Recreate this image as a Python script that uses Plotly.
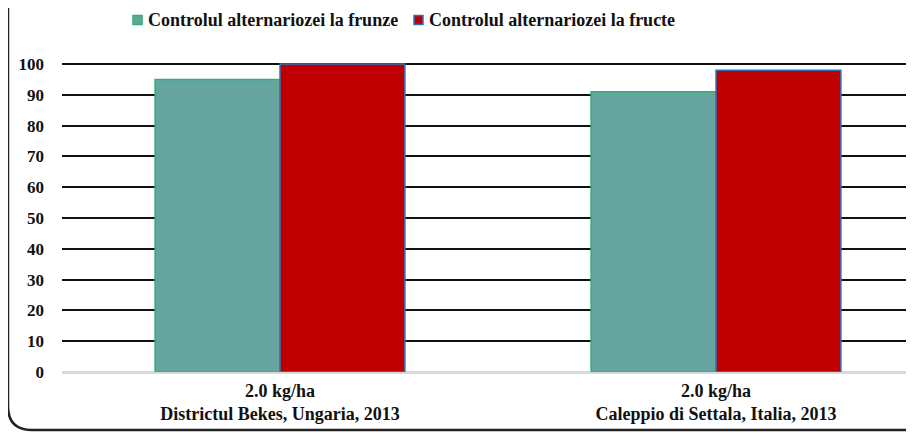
import plotly.graph_objects as go

categories = ["2.0 kg/ha<br>Districtul Bekes, Ungaria, 2013",
              "2.0 kg/ha<br>Caleppio di Settala, Italia, 2013"]
series_names = ["Controlul alternariozei la frunze", "Controlul alternariozei la fructe"]
frunze = [95, 91]
fructe = [100, 98]
y_ticks = [0, 10, 20, 30, 40, 50, 60, 70, 80, 90, 100]

colors = ["#66A59F", "#C00000"]
edges = ["#2DB36E", "#2E75B6"]

# page has an 8px body margin; figure coordinates below are relative to the figure
W, H = 906, 425
ML, MR, MT, MB = 54, 0, 48, 61
pw = W - ML - MR
ph = H - MT - MB

FAM = "Liberation Serif"
font = dict(family=FAM, size=18, color="#111111")
yfont = dict(family=FAM, size=17, color="#111111")


def px2x(p):
    return (p - ML) / pw


def py2y(p):
    return (H - MB - p) / ph


def b(t):
    return "<b>" + t.replace("<br>", "</b><br><b>") + "</b>"


fig = go.Figure()
for name, vals, c, e in zip(series_names, [frunze, fructe], colors, edges):
    fig.add_trace(go.Bar(x=[0, 1], y=vals, name=name, showlegend=False,
                         marker=dict(color=c, line=dict(color=e, width=1.5))))

shapes = []
annotations = []
# custom legend (squares + text)
leg_sq_x = [125, 406]
leg_tx_x = [138, 419]
leg_yc = 12
for i, name in enumerate(series_names):
    shapes.append(dict(type="rect", xref="paper", yref="paper",
                       x0=px2x(leg_sq_x[i]), x1=px2x(leg_sq_x[i] + 9),
                       y0=py2y(leg_yc + 4.5), y1=py2y(leg_yc - 4.5),
                       fillcolor=colors[i], line=dict(color=edges[i], width=1.5)))
    annotations.append(dict(text=b(name), xref="paper", yref="paper",
                            x=px2x(leg_tx_x[i]), y=py2y(leg_yc),
                            xanchor="left", yanchor="middle", showarrow=False,
                            font=font))

# frame with rounded bottom-left corner
x0, ytop, ybot, x1, r = 0.0, -5, 422, 930, 24
path = (f"M {px2x(x0)},{py2y(ytop)} L {px2x(x0)},{py2y(ybot - r)} "
        f"Q {px2x(x0)},{py2y(ybot)} {px2x(x0 + r)},{py2y(ybot)} L {px2x(x1)},{py2y(ybot)}")
shapes.append(dict(type="path", path=path, xref="paper", yref="paper",
                   line=dict(color="#222222", width=2.5), layer="above"))

fig.update_layout(
    width=W, height=H,
    margin=dict(l=ML, r=MR, t=MT, b=MB, autoexpand=False),
    paper_bgcolor="white", plot_bgcolor="white",
    barmode="group", bargap=0.427, bargroupgap=0,
    font=font,
    showlegend=False,
    xaxis=dict(tickmode="array", tickvals=[0, 1], ticktext=[b(c) for c in categories],
               range=[-0.5, -0.5 + pw / 436], showgrid=False, zeroline=False,
               showline=False, ticks="", ticklabelstandoff=6, automargin=False,
               tickfont=font),
    yaxis=dict(range=[0, ph / 3.08], tickmode="array", tickvals=y_ticks,
               ticktext=[b(str(v)) for v in y_ticks],
               showgrid=True, gridcolor="#111111", gridwidth=1.5,
               zeroline=True, zerolinecolor="#D9D9D9", zerolinewidth=2.5,
               showline=False, ticks="", ticklabelstandoff=17, automargin=False,
               tickfont=yfont),
    shapes=shapes,
    annotations=annotations,
)
fig.write_html("out.html")
